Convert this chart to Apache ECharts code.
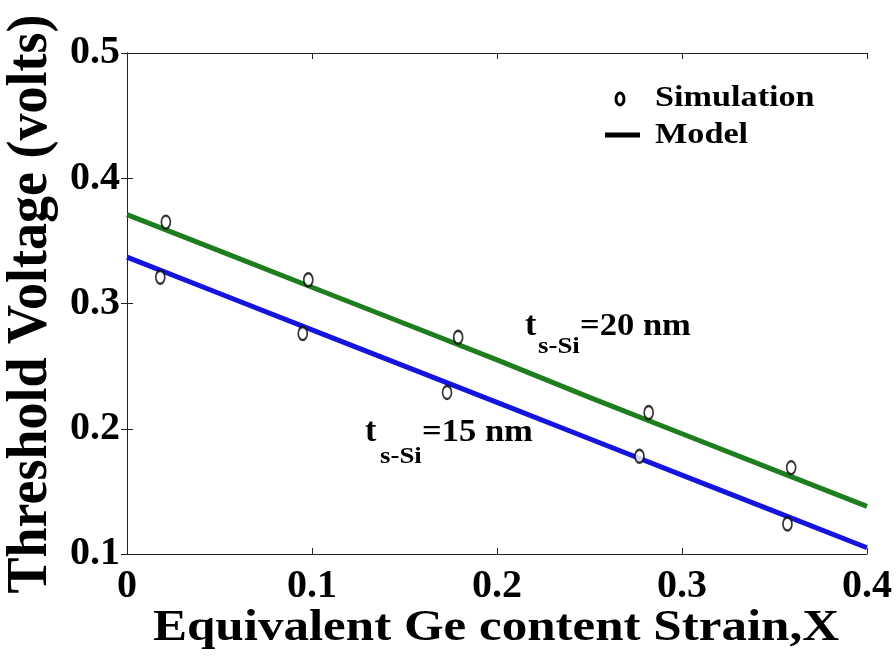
<!DOCTYPE html>
<html>
<head>
<meta charset="utf-8">
<script src="https://cdn.jsdelivr.net/npm/echarts@6/dist/echarts.min.js"></script>
<style>
  html, body { margin: 0; padding: 0; background: #fff; }
  #chart { width: 896px; height: 660px; }
</style>
</head>
<body>
<div id="chart"></div>
<script>
// Axis ranges and ticks
const xTicks = [0, 0.1, 0.2, 0.3, 0.4];
const yTicks = [0.1, 0.2, 0.3, 0.4, 0.5];

// Simulation points, s-Si thickness 20 nm
const sim20X = [0.021, 0.098, 0.179, 0.282, 0.359];
const sim20Y = [0.365, 0.319, 0.273, 0.213, 0.169];
// Simulation points, s-Si thickness 15 nm
const sim15X = [0.018, 0.095, 0.173, 0.277, 0.357];
const sim15Y = [0.321, 0.276, 0.229, 0.178, 0.124];

// Analytical model curves
const modelX = [0, 0.05, 0.1, 0.15, 0.2, 0.25, 0.3, 0.35, 0.4];
const model20 = [0.371, 0.342, 0.313, 0.284, 0.255, 0.225, 0.196, 0.167, 0.138];
const model15 = [0.337, 0.308, 0.279, 0.250, 0.221, 0.192, 0.163, 0.134, 0.105];

const FAMILY = 'Liberation Serif';
const pairs = (xs, ys) => xs.map((x, i) => [x, ys[i]]);

const chart = echarts.init(document.getElementById('chart'));

const axisLine = { show: true, lineStyle: { color: '#222', width: 1 } };
const tickIn = { show: true, inside: true, length: 6, lineStyle: { color: '#222', width: 1 } };
const xMin = xTicks[0], xMax = xTicks[xTicks.length - 1];
const yMin = yTicks[0], yMax = yTicks[yTicks.length - 1];
const xStep = xTicks[1] - xTicks[0], yStep = yTicks[1] - yTicks[0];

// Wide bold serif text
function txt(text, x, y, size, align, sx) {
  return {
    type: 'text', x: x, y: y, scaleX: sx || 1.2,
    style: {
      text: text, fontFamily: FAMILY, fontWeight: 'bold', fontSize: size, fill: '#000',
      align: align || 'left', verticalAlign: 'middle'
    }
  };
}

const marker = {
  symbol: 'emptyCircle', symbolSize: [9, 13],
  itemStyle: { color: '#000', borderColor: '#000', borderWidth: 3 }, z: 3
};

chart.setOption({
  backgroundColor: '#fff',
  animation: false,
  grid: { left: 127, right: 29, top: 53, bottom: 106, containLabel: false, outerBoundsMode: 'none' },
  xAxis: [
    {
      type: 'value', min: xMin, max: xMax, interval: xStep,
      axisLine: axisLine, axisTick: tickIn, splitLine: { show: false },
      axisLabel: {
        margin: 13, color: '#000', fontFamily: FAMILY, fontWeight: 'bold', fontSize: 40,
        formatter: v => (v === 0 ? '0' : v.toFixed(1))
      }
    },
    {
      type: 'value', position: 'top', min: xMin, max: xMax, interval: xStep,
      axisLine: axisLine, axisTick: tickIn, axisLabel: { show: false }, splitLine: { show: false }
    }
  ],
  yAxis: [
    {
      type: 'value', min: yMin, max: yMax, interval: yStep,
      axisLine: axisLine, axisTick: tickIn, splitLine: { show: false },
      axisLabel: {
        margin: 7, color: '#000', fontFamily: FAMILY, fontWeight: 'bold', fontSize: 40,
        formatter: v => v.toFixed(1)
      }
    },
    {
      type: 'value', position: 'right', min: yMin, max: yMax, interval: yStep,
      axisLine: axisLine, axisTick: tickIn, axisLabel: { show: false }, splitLine: { show: false }
    }
  ],
  series: [
    {
      name: 'Model 20 nm', type: 'line', data: pairs(modelX, model20),
      showSymbol: false, lineStyle: { color: '#1e7d1e', width: 5 }, z: 2
    },
    {
      name: 'Model 15 nm', type: 'line', data: pairs(modelX, model15),
      showSymbol: false, lineStyle: { color: '#1414dc', width: 5 }, z: 2
    },
    Object.assign({ name: 'Simulation 20 nm', type: 'scatter', data: pairs(sim20X, sim20Y) }, marker),
    Object.assign({ name: 'Simulation 15 nm', type: 'scatter', data: pairs(sim15X, sim15Y) }, marker)
  ],
  graphic: [
    // Axis titles
    {
      type: 'text', x: 31, y: 304, rotation: Math.PI / 2, scaleY: 1.05,
      style: {
        text: 'Threshold Voltage (volts)', fontFamily: FAMILY, fontWeight: 'bold', fontSize: 54,
        fill: '#000', align: 'center', verticalAlign: 'middle'
      }
    },
    txt('Equivalent Ge content Strain,X', 496, 629, 44, 'center', 1.16),

    // Legend
    { type: 'ellipse', shape: { cx: 620, cy: 99, rx: 4, ry: 6 },
      style: { fill: '#fff', stroke: '#000', lineWidth: 3 } },
    txt('Simulation', 655, 98, 30, 'left', 1.14),
    { type: 'line', shape: { x1: 605, y1: 135, x2: 640, y2: 135 },
      style: { stroke: '#000', lineWidth: 5 } },
    txt('Model', 655, 135, 30, 'left', 1.14),

    // Curve annotations
    txt('t', 525, 326, 34, 'left', 1.0),
    txt('s-Si', 538, 347, 24, 'left', 1.12),
    txt('=20 nm', 580, 327, 32, 'left', 1.08),
    txt('t', 365, 432, 34, 'left', 1.0),
    txt('s-Si', 380, 457, 24, 'left', 1.12),
    txt('=15 nm', 422, 433, 32, 'left', 1.08)
  ]
});
</script>
</body>
</html>
